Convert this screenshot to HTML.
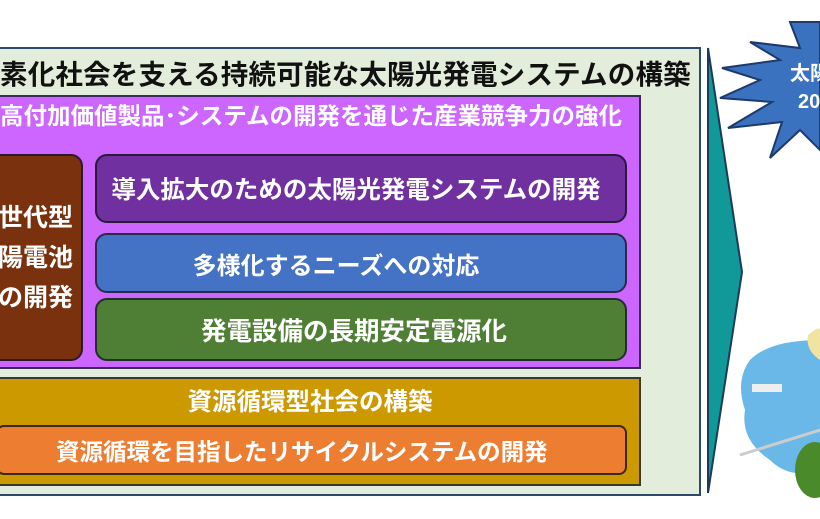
<!DOCTYPE html>
<html><head><meta charset="utf-8"><style>
body{margin:0;width:820px;height:519px;background:#fff;overflow:hidden;position:relative;font-family:"Liberation Sans","Noto Sans CJK JP",sans-serif;font-weight:bold}
.a{position:absolute;box-sizing:border-box}
.t{display:flex;align-items:center;justify-content:center;color:#fff;white-space:nowrap}
</style></head><body>
<div class="a" style="left:-4px;top:47px;width:705px;height:449px;background:#e2eedb;border:2px solid #2e4a6a"></div>
<div class="a t" style="left:0;top:50px;width:700px;height:44px;color:#111;font-size:27.5px;justify-content:flex-start;letter-spacing:0.2px">素化社会を支える持続可能な太陽光発電システムの構築</div>
<div class="a" style="left:-4px;top:95px;width:645px;height:274px;background:#cc66ff;border:2px solid #3a2a5a"></div>
<div class="a t" style="left:0;top:96px;width:640px;height:36px;font-size:23.5px;justify-content:flex-start">高付加価値製品･システムの開発を通じた産業競争力の強化</div>
<div class="a t" style="left:-12px;top:154px;width:95px;height:207px;background:#7a320e;border:2px solid #2a1a2a;border-radius:12px;font-size:25px;line-height:40px;flex-direction:column;align-items:flex-end;padding-right:8px"><div>世代型</div><div>陽電池</div><div>の開発</div></div>
<div class="a t" style="left:95px;top:154px;width:532px;height:69px;background:#7030a0;border:2px solid #2a1a3a;border-radius:12px;font-size:24.5px;padding-right:10px">導入拡大のための太陽光発電システムの開発</div>
<div class="a t" style="left:95px;top:233px;width:532px;height:60px;background:#4472c4;border:2px solid #2a2a4a;border-radius:12px;font-size:24px;padding-right:50px">多様化するニーズへの対応</div>
<div class="a t" style="left:95px;top:298px;width:532px;height:63px;background:#4e7f34;border:2px solid #1f2f2a;border-radius:12px;font-size:25.5px;padding-right:14px">発電設備の長期安定電源化</div>
<div class="a" style="left:-4px;top:377px;width:645px;height:109px;background:#cc9900;border:2px solid #3a3a2a"></div>
<div class="a t" style="left:0;top:380px;width:620px;height:40px;font-size:24.5px">資源循環型社会の構築</div>
<div class="a t" style="left:-4px;top:425px;width:631px;height:50px;background:#ed7d31;border:2px solid #3a2a1a;border-radius:8px;font-size:23.5px;justify-content:flex-start;padding-left:58px">資源循環を目指したリサイクルシステムの開発</div>
<svg class="a" style="left:0;top:0" width="820" height="519">
<polygon points="708,48 742,272 708,493" fill="#119999" stroke="#1c3a5a" stroke-width="2"/>
<polygon points="790,22 800,48 750,42 780,60 722,68 760,80 720,98 772,102 728,128 782,122 770,158 800,130 820,150 820,22" fill="#3a72c0" stroke="#1c3a6a" stroke-width="2"/>
<text x="790" y="80" fill="#fff" font-size="20" font-weight="bold">太陽光</text>
<text x="798" y="108" fill="#fff" font-size="20" font-weight="bold">20</text>
<path d="M750,360 Q770,340 820,340 L820,470 Q790,480 770,460 Q740,440 745,410 Q735,380 750,360Z" fill="#6ab8e8"/>
<path d="M808,335 Q820,325 820,330 L820,360 Q805,350 808,335Z" fill="#f0e4a0"/>
<ellipse cx="815" cy="470" rx="20" ry="28" fill="#4a8a2a"/>
<line x1="740" y1="455" x2="820" y2="430" stroke="#ccc" stroke-width="3"/>
<rect x="752" y="384" width="30" height="8" fill="#eee"/>
</svg>
</body></html>
